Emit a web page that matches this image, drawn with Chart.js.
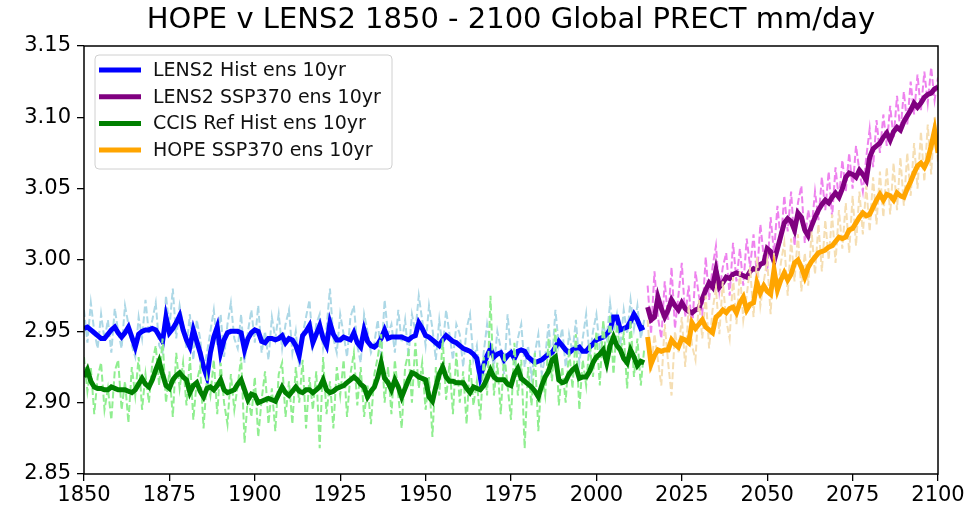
<!DOCTYPE html>
<html>
<head>
<meta charset="utf-8">
<script src="https://cdn.jsdelivr.net/npm/chart.js@4.4.1/dist/chart.umd.min.js"></script>
<style>
  html, body { margin: 0; padding: 0; background: #fff; }
  #wrap { width: 974px; height: 519px; }
</style>
</head>
<body>
<div id="wrap"><canvas id="prect-chart"></canvas></div>
<script>
// 연도축 (historical / scenario)
var histStart = 1850, histEnd = 2014;
var futStart = 2015, futEnd = 2100;
var xTicks = [1850, 1875, 1900, 1925, 1950, 1975, 2000, 2025, 2050, 2075, 2100];
var yTicks = [2.85, 2.90, 2.95, 3.00, 3.05, 3.10, 3.15];
var chartTitle = 'HOPE v LENS2 1850 - 2100 Global PRECT mm/day';

// LENS2 Hist ens 10yr (1850-2014)
var lensHist = [
	2.952, 2.953, 2.951, 2.949, 2.947, 2.945, 2.945, 2.948, 2.951, 2.953,
	2.949, 2.946, 2.949, 2.953, 2.946, 2.939, 2.948, 2.950, 2.951, 2.951,
	2.952, 2.951, 2.947, 2.943, 2.960, 2.949, 2.952, 2.956, 2.961, 2.951,
	2.944, 2.939, 2.951, 2.943, 2.935, 2.925, 2.918, 2.935, 2.946, 2.953,
	2.935, 2.944, 2.949, 2.950, 2.950, 2.950, 2.949, 2.937, 2.945, 2.949,
	2.951, 2.950, 2.943, 2.942, 2.945, 2.945, 2.944, 2.945, 2.947, 2.942,
	2.945, 2.944, 2.940, 2.933, 2.947, 2.950, 2.954, 2.942, 2.948, 2.954,
	2.945, 2.940, 2.956, 2.948, 2.944, 2.944, 2.946, 2.945, 2.944, 2.949,
	2.942, 2.939, 2.951, 2.943, 2.940, 2.939, 2.941, 2.945, 2.951, 2.945,
	2.946, 2.946, 2.946, 2.946, 2.945, 2.944, 2.946, 2.947, 2.956, 2.952,
	2.947, 2.946, 2.944, 2.942, 2.940, 2.944, 2.947, 2.945, 2.943, 2.942,
	2.940, 2.938, 2.937, 2.936, 2.934, 2.931, 2.918, 2.926, 2.933, 2.938,
	2.932, 2.934, 2.935, 2.930, 2.933, 2.935, 2.931, 2.936, 2.937, 2.936,
	2.932, 2.930, 2.928, 2.929, 2.930, 2.932, 2.934, 2.935, 2.939, 2.943,
	2.940, 2.937, 2.935, 2.937, 2.938, 2.939, 2.936, 2.936, 2.939, 2.941,
	2.944, 2.945, 2.946, 2.948, 2.951, 2.960, 2.960, 2.951, 2.952, 2.953,
	2.957, 2.962, 2.958, 2.952, 2.953
];
// LENS2 SSP370 ens 10yr (2015-2100)
var lensSsp = [
	2.967, 2.958, 2.960, 2.974, 2.966, 2.960, 2.965, 2.972, 2.968, 2.965,
	2.970, 2.966, 2.964, 2.963, 2.965, 2.966, 2.973, 2.979, 2.984, 2.981,
	2.993, 2.981, 2.984, 2.988, 2.987, 2.990, 2.991, 2.990, 2.989, 2.988,
	2.992, 2.994, 2.993, 2.997, 2.998, 3.008, 3.006, 2.999, 3.008, 3.017,
	3.026, 3.029, 3.027, 3.021, 3.033, 3.030, 3.021, 3.017, 3.024, 3.030,
	3.035, 3.039, 3.042, 3.040, 3.044, 3.047, 3.044, 3.050, 3.058, 3.061,
	3.060, 3.058, 3.063, 3.060, 3.056, 3.072, 3.078, 3.080, 3.082, 3.086,
	3.089, 3.084, 3.090, 3.093, 3.091, 3.097, 3.101, 3.105, 3.110, 3.107,
	3.110, 3.114, 3.116, 3.117, 3.120, 3.121
];
// CCIS Ref Hist ens 10yr (1850-2014)
var ccisHist = [
	2.918, 2.923, 2.915, 2.911, 2.910, 2.910, 2.909, 2.909, 2.911, 2.910,
	2.909, 2.909, 2.909, 2.908, 2.907, 2.909, 2.913, 2.917, 2.913, 2.911,
	2.916, 2.923, 2.929, 2.920, 2.912, 2.910, 2.916, 2.919, 2.921, 2.918,
	2.916, 2.907, 2.912, 2.914, 2.908, 2.904, 2.910, 2.911, 2.909, 2.912,
	2.916, 2.909, 2.907, 2.908, 2.909, 2.913, 2.916, 2.909, 2.902, 2.906,
	2.905, 2.900, 2.901, 2.902, 2.903, 2.902, 2.901, 2.906, 2.911, 2.907,
	2.905, 2.908, 2.911, 2.908, 2.907, 2.909, 2.909, 2.907, 2.909, 2.911,
	2.916, 2.909, 2.907, 2.908, 2.910, 2.911, 2.912, 2.914, 2.916, 2.918,
	2.916, 2.913, 2.911, 2.904, 2.908, 2.911, 2.918, 2.928, 2.917, 2.914,
	2.909, 2.916, 2.911, 2.904, 2.910, 2.916, 2.921, 2.920, 2.918, 2.917,
	2.916, 2.904, 2.901, 2.911, 2.920, 2.925, 2.918, 2.915, 2.915, 2.914,
	2.914, 2.914, 2.910, 2.907, 2.911, 2.910, 2.909, 2.912, 2.917, 2.923,
	2.918, 2.916, 2.916, 2.916, 2.913, 2.912, 2.920, 2.924, 2.917, 2.915,
	2.913, 2.911, 2.908, 2.904, 2.912, 2.918, 2.922, 2.930, 2.932, 2.916,
	2.914, 2.915, 2.920, 2.923, 2.925, 2.917, 2.918, 2.918, 2.922, 2.928,
	2.932, 2.934, 2.937, 2.928, 2.940, 2.946, 2.940, 2.937, 2.931, 2.928,
	2.937, 2.932, 2.926, 2.929, 2.928
];
// HOPE SSP370 ens 10yr (2015-2100)
var hopeSsp = [
	2.946, 2.927, 2.933, 2.937, 2.936, 2.937, 2.937, 2.944, 2.941, 2.939,
	2.945, 2.944, 2.942, 2.956, 2.952, 2.955, 2.958, 2.953, 2.951, 2.949,
	2.960, 2.962, 2.965, 2.963, 2.966, 2.967, 2.963, 2.970, 2.974, 2.965,
	2.969, 2.970, 2.984, 2.977, 2.982, 2.978, 2.976, 2.993, 2.979, 2.986,
	2.991, 2.986, 2.990, 2.998, 3.000, 2.995, 2.988, 2.995, 2.999, 3.002,
	3.005, 3.006, 3.007, 3.009, 3.010, 3.013, 3.016, 3.015, 3.016, 3.021,
	3.022, 3.026, 3.030, 3.033, 3.031, 3.032, 3.037, 3.042, 3.046, 3.042,
	3.046, 3.045, 3.042, 3.047, 3.045, 3.044, 3.050, 3.055, 3.061, 3.066,
	3.068, 3.065, 3.070, 3.080, 3.091, 3.075
];

// 연별 값 (점선)
var lensHistYearly = [
	2.965, 2.942, 2.970, 2.950, 2.938, 2.962, 2.944, 2.958, 2.935, 2.966,
	2.950, 2.938, 2.968, 2.955, 2.940, 2.932, 2.960, 2.945, 2.972, 2.948,
	2.958, 2.970, 2.940, 2.935, 2.975, 2.952, 2.980, 2.945, 2.968, 2.955,
	2.938, 2.962, 2.930, 2.958, 2.945, 2.922, 2.935, 2.950, 2.965, 2.940,
	2.962, 2.932, 2.955, 2.970, 2.945, 2.938, 2.962, 2.928, 2.950, 2.965,
	2.942, 2.968, 2.935, 2.950, 2.930, 2.960, 2.945, 2.962, 2.938, 2.955,
	2.965, 2.935, 2.950, 2.925, 2.948, 2.960, 2.972, 2.940, 2.955, 2.962,
	2.938, 2.952, 2.980, 2.945, 2.935, 2.962, 2.948, 2.932, 2.960, 2.968,
	2.940, 2.928, 2.962, 2.950, 2.935, 2.942, 2.958, 2.930, 2.972, 2.948,
	2.955, 2.935, 2.965, 2.942, 2.958, 2.932, 2.962, 2.950, 2.975, 2.958,
	2.940, 2.968, 2.952, 2.930, 2.958, 2.938, 2.965, 2.948, 2.930, 2.955,
	2.948, 2.925, 2.952, 2.962, 2.930, 2.940, 2.912, 2.935, 2.955, 2.940,
	2.925, 2.950, 2.938, 2.920, 2.962, 2.935, 2.928, 2.945, 2.955, 2.925,
	2.940, 2.918, 2.935, 2.948, 2.920, 2.932, 2.955, 2.928, 2.965, 2.940,
	2.952, 2.925, 2.948, 2.935, 2.958, 2.928, 2.945, 2.962, 2.932, 2.950,
	2.962, 2.938, 2.955, 2.945, 2.970, 2.950, 2.962, 2.940, 2.965, 2.948,
	2.972, 2.952, 2.968, 2.945, 2.958
];
var lensSspYearly = [
	2.982, 2.948, 2.992, 2.960, 2.945, 2.985, 2.958, 2.995, 2.952, 2.975,
	2.998, 2.960, 2.982, 2.950, 2.992, 2.975, 2.962, 3.002, 2.972, 2.995,
	3.010, 2.978, 2.995, 3.005, 2.975, 3.012, 2.985, 3.008, 2.982, 3.015,
	2.995, 3.018, 2.988, 3.025, 3.002, 2.992, 3.030, 3.005, 3.038, 3.012,
	3.045, 3.020, 3.048, 3.010, 3.040, 3.052, 3.012, 3.035, 3.022, 3.048,
	3.028, 3.058, 3.035, 3.062, 3.030, 3.065, 3.042, 3.070, 3.048, 3.075,
	3.050, 3.080, 3.062, 3.048, 3.072, 3.092, 3.065, 3.098, 3.075, 3.102,
	3.080, 3.108, 3.085, 3.115, 3.090, 3.118, 3.095, 3.125, 3.102, 3.130,
	3.105, 3.132, 3.110, 3.135, 3.112, 3.128
];
var ccisHistYearly = [
	2.932, 2.908, 2.925, 2.892, 2.918, 2.928, 2.895, 2.910, 2.888, 2.922,
	2.930, 2.895, 2.915, 2.886, 2.925, 2.905, 2.932, 2.895, 2.920, 2.900,
	2.928, 2.940, 2.912, 2.945, 2.900, 2.922, 2.890, 2.935, 2.910, 2.928,
	2.898, 2.932, 2.888, 2.915, 2.925, 2.882, 2.918, 2.905, 2.930, 2.892,
	2.928, 2.900, 2.885, 2.920, 2.895, 2.912, 2.932, 2.872, 2.905, 2.890,
	2.918, 2.876, 2.902, 2.922, 2.885, 2.910, 2.880, 2.920, 2.928, 2.890,
	2.915, 2.885, 2.925, 2.900, 2.930, 2.882, 2.918, 2.895, 2.922, 2.868,
	2.932, 2.892, 2.915, 2.882, 2.925, 2.905, 2.930, 2.890, 2.920, 2.935,
	2.898, 2.925, 2.890, 2.912, 2.885, 2.920, 2.932, 2.948, 2.900, 2.925,
	2.892, 2.930, 2.905, 2.882, 2.925, 2.935, 2.900, 2.942, 2.910, 2.928,
	2.895, 2.918, 2.876, 2.925, 2.905, 2.945, 2.902, 2.928, 2.892, 2.935,
	2.900, 2.922, 2.885, 2.930, 2.898, 2.915, 2.888, 2.932, 2.905, 2.975,
	2.905, 2.928, 2.892, 2.935, 2.912, 2.888, 2.942, 2.905, 2.930, 2.868,
	2.925, 2.898, 2.935, 2.880, 2.920, 2.905, 2.945, 2.915, 2.952, 2.898,
	2.925, 2.900, 2.938, 2.910, 2.948, 2.895, 2.930, 2.912, 2.942, 2.918,
	2.950, 2.912, 2.958, 2.925, 2.962, 2.920, 2.955, 2.935, 2.948, 2.910,
	2.958, 2.918, 2.945, 2.912, 2.938
];
var hopeSspYearly = [
	2.958, 2.922, 2.948, 2.930, 2.912, 2.955, 2.928, 2.905, 2.950, 2.935,
	2.960, 2.925, 2.968, 2.940, 2.930, 2.972, 2.945, 2.975, 2.938, 2.965,
	2.980, 2.948, 2.985, 2.958, 2.945, 2.988, 2.955, 2.992, 2.958, 2.975,
	2.995, 2.960, 3.002, 2.968, 2.985, 3.000, 2.962, 3.005, 2.975, 2.998,
	3.012, 2.975, 3.015, 2.985, 3.018, 2.978, 3.005, 2.982, 3.020, 2.990,
	3.025, 2.992, 3.028, 3.000, 3.032, 2.998, 3.035, 3.008, 3.040, 3.005,
	3.045, 3.010, 3.048, 3.018, 3.052, 3.020, 3.058, 3.025, 3.062, 3.030,
	3.065, 3.032, 3.068, 3.035, 3.072, 3.038, 3.075, 3.045, 3.082, 3.050,
	3.090, 3.055, 3.095, 3.060, 3.100, 3.068
];

var PRECTChart;

/**
 * 연도 + 값 -> {x, y}
 */
function toPoints(startYear, values) {
	return values.map(function(v, i) {
		return { x: startYear + i, y: v };
	});
}

function meanLine(label, color, startYear, values, rank) {
	return {
		label: label,
		data: toPoints(startYear, values),
		borderColor: color,
		borderWidth: 5,
		pointRadius: 0,
		tension: 0,
		legendRank: rank
	};
}

function yearlyLine(label, color, startYear, values) {
	return {
		label: label,
		data: toPoints(startYear, values),
		borderColor: color,
		borderWidth: 2,
		borderDash: [7, 3],
		pointRadius: 0,
		tension: 0,
		legendRank: -1
	};
}

// 제목 (플롯 영역 기준 가운데)
var titlePlugin = {
	id: 'titlePlugin',
	afterDraw: function(chart) {
		var ctx = chart.ctx;
		var a = chart.chartArea;
		ctx.save();
		ctx.font = '29px "DejaVu Sans"';
		ctx.fillStyle = '#000';
		ctx.textAlign = 'center';
		ctx.textBaseline = 'middle';
		ctx.fillText(chartTitle, (a.left + a.right) / 2, 20);
		ctx.restore();
	}
};

// 범례 + 테두리
var boxPlugin = {
	id: 'boxPlugin',
	afterDatasetsDraw: function(chart) {
		var ctx = chart.ctx;
		var a = chart.chartArea;
		ctx.save();
		ctx.strokeStyle = '#000';
		ctx.lineWidth = 1.5;
		ctx.strokeRect(a.left, a.top, a.right - a.left, a.bottom - a.top);

		var items = chart.data.datasets
			.filter(function(d) { return d.legendRank >= 0; })
			.sort(function(p, q) { return p.legendRank - q.legendRank; });
		var x = a.left + 11, y = a.top + 9, w = 297, h = 114;
		ctx.fillStyle = 'rgba(255,255,255,0.8)';
		ctx.strokeStyle = '#d0d0d0';
		ctx.lineWidth = 1;
		ctx.beginPath();
		ctx.roundRect(x, y, w, h, 4);
		ctx.fill();
		ctx.stroke();

		ctx.font = '19px "DejaVu Sans"';
		ctx.textBaseline = 'middle';
		items.forEach(function(d, i) {
			var cy = y + 15 + i * 26.7;
			ctx.strokeStyle = d.borderColor;
			ctx.lineWidth = 5;
			ctx.beginPath();
			ctx.moveTo(x + 4, cy);
			ctx.lineTo(x + 46, cy);
			ctx.stroke();
			ctx.fillStyle = '#111';
			ctx.fillText(d.label, x + 58, cy + 1);
		});
		ctx.restore();
	}
};

function createChart() {
	Chart.defaults.font.family = '"DejaVu Sans", sans-serif';
	Chart.defaults.color = '#000';

	// 앞쪽 데이터셋이 위에 그려짐
	var datasets = [
		meanLine('HOPE SSP370 ens 10yr', '#ffa500', futStart, hopeSsp, 3),
		yearlyLine('HOPE SSP370', '#f5deb3', futStart, hopeSspYearly),
		meanLine('LENS2 SSP370 ens 10yr', '#800080', futStart, lensSsp, 1),
		yearlyLine('LENS2 SSP370', '#ee82ee', futStart, lensSspYearly),
		meanLine('CCIS Ref Hist ens 10yr', '#008000', histStart, ccisHist, 2),
		yearlyLine('CCIS Ref Hist', '#90ee90', histStart, ccisHistYearly),
		meanLine('LENS2 Hist ens 10yr', '#0000ff', histStart, lensHist, 0),
		yearlyLine('LENS2 Hist', '#add8e6', histStart, lensHistYearly)
	];

	PRECTChart = new Chart(document.getElementById('prect-chart'), {
		type: 'line',
		data: { datasets: datasets },
		plugins: [boxPlugin, titlePlugin],
		options: {
			responsive: true,
			maintainAspectRatio: false,
			animation: false,
			layout: { padding: { left: 0, right: 36, top: 46, bottom: 0 } },
			plugins: {
				legend: { display: false },
				tooltip: { enabled: false },
				title: { display: false }
			},
			scales: {
				x: {
					type: 'linear',
					min: histStart,
					max: futEnd,
					afterBuildTicks: function(scale) {
						scale.ticks = xTicks.map(function(v) { return { value: v }; });
					},
					afterFit: function(scale) { scale.height = 45; },
					border: { display: false },
					grid: { drawOnChartArea: false, drawTicks: true, tickLength: 7, color: '#000', lineWidth: 1.3 },
					ticks: { font: { size: 21 }, color: '#000', padding: 2, maxRotation: 0,
						callback: function(v) { return String(v); } }
				},
				y: {
					min: yTicks[0],
					max: yTicks[yTicks.length - 1],
					afterBuildTicks: function(scale) {
						scale.ticks = yTicks.map(function(v) { return { value: v }; });
					},
					afterFit: function(scale) { scale.width = 84; },
					border: { display: false },
					grid: { drawOnChartArea: false, drawTicks: true, tickLength: 7, color: '#000', lineWidth: 1.3 },
					ticks: { font: { size: 21 }, color: '#000', padding: 6,
						callback: function(v) { return Number(v).toFixed(2); } }
				}
			}
		}
	});
}

createChart();
</script>
</body>
</html>
